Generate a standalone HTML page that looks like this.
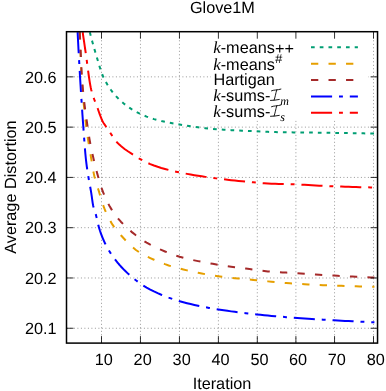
<!DOCTYPE html>
<html><head><meta charset="utf-8"><title>Glove1M</title>
<style>html,body{margin:0;padding:0;background:#fff}body{width:386px;height:391px;overflow:hidden;font-family:"Liberation Sans",sans-serif}</style></head>
<body>
<svg width="386" height="391" viewBox="0 0 386 391" style="display:block;will-change:transform;text-rendering:geometricPrecision;font-family:'Liberation Sans',sans-serif;font-size:16.25px">
<rect width="386" height="391" fill="#fff"/>
<g stroke="#000" stroke-width="0.67" stroke-dasharray="1 2.5" opacity="0.62" fill="none">
<path d="M101.50,343.1 V31.7" stroke-dashoffset="-0.8"/>
<path d="M140.45,343.1 V31.7" stroke-dashoffset="-0.8"/>
<path d="M179.45,343.1 V31.7" stroke-dashoffset="-0.8"/>
<path d="M218.40,343.1 V31.7" stroke-dashoffset="-0.8"/>
<path d="M257.30,343.1 V31.7" stroke-dashoffset="-0.8"/>
<path d="M295.90,343.1 V31.7" stroke-dashoffset="-0.8"/>
<path d="M334.55,343.1 V31.7" stroke-dashoffset="-0.8"/>
<path d="M373.50,343.1 V31.7" stroke-dashoffset="-0.8"/>
<path d="M66.5,328.25 H377.55" stroke-dashoffset="-0.4"/>
<path d="M66.5,277.97 H377.55" stroke-dashoffset="-0.4"/>
<path d="M66.5,227.69 H377.55" stroke-dashoffset="-0.4"/>
<path d="M66.5,177.41 H377.55" stroke-dashoffset="-0.4"/>
<path d="M66.5,127.13 H377.55" stroke-dashoffset="-0.4"/>
<path d="M66.5,76.85 H377.55" stroke-dashoffset="-0.4"/>
</g>
<clipPath id="c"><rect x="66.5" y="31.7" width="311.05" height="311.40000000000003"/></clipPath>
<g clip-path="url(#c)" fill="none" stroke-width="2">
<path d="M89.82,32.17 L90.17,33.54 L90.52,34.89 L90.86,36.23 L91.21,37.55 L91.56,38.87 L91.91,40.16 L92.26,41.45 L92.61,42.72 L92.96,43.99 L93.31,45.24 L93.66,46.47 L94.01,47.70 L94.36,48.91 L94.71,50.12 L95.06,51.31 L95.40,52.49 L95.75,53.66 L96.10,54.83 L96.45,56.00 L96.80,57.19 L97.15,58.39 L97.50,59.58 L97.85,60.78 L98.20,61.97 L98.55,63.15 L98.90,64.31 L99.25,65.46 L99.60,66.60 L99.95,67.71 L100.29,68.79 L100.64,69.85 L100.99,70.88 L101.34,71.88 L101.69,72.84 L102.04,73.77 L102.39,74.66 L102.74,75.51 L103.09,76.32 L103.44,77.09 L103.79,77.83 L104.14,78.56 L104.49,79.27 L104.83,79.96 L105.18,80.64 L105.53,81.31 L105.88,81.96 L106.23,82.59 L106.58,83.21 L106.93,83.82 L107.28,84.42 L107.63,85.00 L107.98,85.58 L108.33,86.14 L108.68,86.69 L109.03,87.22 L109.37,87.75 L109.72,88.27 L110.07,88.78 L110.42,89.28 L110.77,89.77 L111.12,90.25 L111.47,90.72 L111.82,91.18 L112.17,91.64 L112.52,92.09 L112.87,92.53 L113.22,92.96 L113.57,93.39 L113.92,93.81 L114.26,94.22 L114.61,94.62 L114.96,95.02 L115.31,95.42 L115.66,95.80 L116.01,96.18 L116.36,96.56 L116.71,96.93 L117.06,97.30 L117.41,97.66 L117.76,98.02 L118.11,98.37 L118.46,98.72 L118.80,99.06 L119.15,99.40 L119.50,99.74 L119.85,100.07 L120.20,100.39 L120.55,100.72 L120.90,101.03 L124.57,104.16 L128.25,106.90 L131.92,109.33 L135.60,111.48 L139.27,113.39 L142.94,115.10 L146.62,116.63 L150.29,117.97 L153.97,119.13 L157.64,120.14 L161.31,121.04 L164.99,121.85 L168.66,122.59 L172.33,123.28 L176.01,123.92 L179.68,124.54 L183.36,125.15 L187.03,125.74 L190.70,126.30 L194.38,126.84 L198.05,127.35 L201.73,127.82 L205.40,128.24 L209.07,128.63 L212.75,128.96 L216.42,129.26 L220.10,129.51 L223.77,129.74 L227.44,129.95 L231.12,130.14 L234.79,130.31 L238.47,130.48 L242.14,130.65 L245.81,130.81 L249.49,130.97 L253.16,131.14 L256.83,131.31 L260.51,131.50 L264.18,131.70 L267.86,131.87 L271.53,131.98 L275.20,132.07 L278.88,132.15 L282.55,132.22 L286.23,132.28 L289.90,132.34 L293.57,132.39 L297.25,132.44 L300.92,132.48 L304.60,132.52 L308.27,132.56 L311.94,132.61 L315.62,132.65 L319.29,132.69 L322.97,132.74 L326.64,132.78 L330.31,132.83 L333.99,132.89 L337.66,132.94 L341.33,133.00 L345.01,133.06 L348.68,133.12 L352.36,133.18 L356.03,133.24 L359.70,133.30 L363.38,133.36 L367.05,133.42 L370.73,133.48 L374.40,133.54" stroke="#009e73" stroke-dasharray="3.7 5.04"/>
<path d="M79.56,32.17 L80.02,42.48 L80.49,52.68 L80.95,63.22 L81.42,72.97 L81.88,80.41 L82.35,87.11 L82.81,93.19 L83.28,98.76 L83.74,103.89 L84.20,108.65 L84.67,113.13 L85.13,117.37 L85.60,121.44 L86.06,125.36 L86.53,129.03 L86.99,132.46 L87.46,135.69 L87.92,138.75 L88.39,141.68 L88.85,144.52 L89.31,147.29 L89.78,150.03 L90.24,152.75 L90.71,155.47 L91.17,158.23 L91.64,161.06 L92.10,163.94 L92.57,166.78 L93.03,169.51 L93.49,172.06 L93.96,174.38 L94.42,176.43 L94.89,178.30 L95.35,180.03 L95.82,181.65 L96.28,183.18 L96.75,184.66 L97.21,186.09 L97.68,187.52 L98.14,188.95 L98.60,190.41 L99.07,191.90 L99.53,193.43 L100.00,194.98 L100.46,196.54 L100.93,198.09 L101.39,199.62 L101.86,201.13 L102.32,202.60 L102.78,204.03 L103.25,205.40 L103.71,206.71 L104.18,207.96 L104.64,209.14 L105.11,210.27 L105.57,211.36 L106.04,212.43 L106.50,213.46 L106.97,214.47 L107.43,215.45 L107.89,216.40 L108.36,217.33 L108.82,218.23 L109.29,219.10 L109.75,219.96 L110.22,220.79 L110.68,221.59 L111.15,222.38 L111.61,223.15 L112.07,223.90 L112.54,224.63 L113.00,225.33 L113.47,226.02 L113.93,226.69 L114.40,227.34 L114.86,227.98 L115.33,228.60 L115.79,229.21 L116.26,229.81 L116.72,230.39 L117.18,230.96 L117.65,231.53 L118.11,232.08 L118.58,232.63 L119.04,233.17 L119.51,233.70 L119.97,234.22 L120.44,234.75 L120.90,235.26 L124.57,239.25 L128.25,243.13 L131.92,246.68 L135.60,249.74 L139.27,252.23 L142.94,254.37 L146.62,256.27 L150.29,258.04 L153.97,259.73 L157.64,261.32 L161.31,262.81 L164.99,264.18 L168.66,265.43 L172.33,266.57 L176.01,267.60 L179.68,268.56 L183.36,269.48 L187.03,270.36 L190.70,271.21 L194.38,272.02 L198.05,272.79 L201.73,273.52 L205.40,274.21 L209.07,274.85 L212.75,275.45 L216.42,276.00 L220.10,276.51 L223.77,276.97 L227.44,277.39 L231.12,277.78 L234.79,278.16 L238.47,278.51 L242.14,278.86 L245.81,279.20 L249.49,279.54 L253.16,279.89 L256.83,280.25 L260.51,280.62 L264.18,281.00 L267.86,281.37 L271.53,281.71 L275.20,282.06 L278.88,282.39 L282.55,282.72 L286.23,283.03 L289.90,283.32 L293.57,283.58 L297.25,283.82 L300.92,284.04 L304.60,284.25 L308.27,284.45 L311.94,284.63 L315.62,284.81 L319.29,284.97 L322.97,285.13 L326.64,285.29 L330.31,285.43 L333.99,285.58 L337.66,285.71 L341.33,285.85 L345.01,285.98 L348.68,286.10 L352.36,286.22 L356.03,286.33 L359.70,286.44 L363.38,286.55 L367.05,286.65 L370.73,286.74 L374.40,286.84" stroke="#e69f00" stroke-dasharray="7.3 10.22"/>
<path d="M79.79,32.17 L80.26,42.42 L80.72,52.57 L81.18,63.19 L81.64,72.87 L82.10,79.57 L82.57,85.44 L83.03,90.67 L83.49,95.36 L83.95,99.63 L84.41,103.55 L84.87,107.22 L85.34,110.71 L85.80,114.07 L86.26,117.38 L86.72,120.67 L87.18,124.00 L87.65,127.30 L88.11,130.47 L88.57,133.50 L89.03,136.39 L89.49,139.14 L89.96,141.75 L90.42,144.22 L90.88,146.57 L91.34,148.83 L91.80,151.00 L92.26,153.12 L92.73,155.18 L93.19,157.20 L93.65,159.21 L94.11,161.18 L94.57,163.11 L95.04,165.01 L95.50,166.86 L95.96,168.68 L96.42,170.45 L96.88,172.18 L97.34,173.87 L97.81,175.52 L98.27,177.15 L98.73,178.77 L99.19,180.36 L99.65,181.91 L100.12,183.44 L100.58,184.92 L101.04,186.36 L101.50,187.75 L101.96,189.09 L102.43,190.38 L102.89,191.61 L103.35,192.80 L103.81,193.95 L104.27,195.08 L104.73,196.18 L105.20,197.25 L105.66,198.29 L106.12,199.30 L106.58,200.29 L107.04,201.25 L107.51,202.19 L107.97,203.10 L108.43,203.99 L108.89,204.86 L109.35,205.71 L109.82,206.53 L110.28,207.34 L110.74,208.12 L111.20,208.88 L111.66,209.63 L112.12,210.35 L112.59,211.06 L113.05,211.75 L113.51,212.43 L113.97,213.09 L114.43,213.74 L114.90,214.37 L115.36,215.00 L115.82,215.61 L116.28,216.21 L116.74,216.79 L117.21,217.37 L117.67,217.94 L118.13,218.51 L118.59,219.06 L119.05,219.60 L119.51,220.14 L119.98,220.67 L120.44,221.20 L120.90,221.71 L124.57,225.54 L128.25,228.98 L131.92,232.13 L135.60,235.08 L139.27,237.83 L142.94,240.37 L146.62,242.67 L150.29,244.73 L153.97,246.60 L157.64,248.33 L161.31,249.94 L164.99,251.47 L168.66,252.95 L172.33,254.35 L176.01,255.63 L179.68,256.76 L183.36,257.77 L187.03,258.70 L190.70,259.56 L194.38,260.37 L198.05,261.13 L201.73,261.85 L205.40,262.53 L209.07,263.19 L212.75,263.83 L216.42,264.45 L220.10,265.05 L223.77,265.62 L227.44,266.16 L231.12,266.67 L234.79,267.17 L238.47,267.66 L242.14,268.13 L245.81,268.60 L249.49,269.06 L253.16,269.52 L256.83,269.98 L260.51,270.46 L264.18,270.97 L267.86,271.41 L271.53,271.74 L275.20,272.00 L278.88,272.23 L282.55,272.43 L286.23,272.61 L289.90,272.80 L293.57,273.00 L297.25,273.22 L300.92,273.45 L304.60,273.69 L308.27,273.94 L311.94,274.19 L315.62,274.44 L319.29,274.69 L322.97,274.93 L326.64,275.16 L330.31,275.39 L333.99,275.60 L337.66,275.80 L341.33,276.00 L345.01,276.19 L348.68,276.37 L352.36,276.55 L356.03,276.73 L359.70,276.90 L363.38,277.07 L367.05,277.23 L370.73,277.38 L374.40,277.54" stroke="#a52a2a" stroke-dasharray="7.3 10.22"/>
<path d="M77.61,32.17 L78.10,41.74 L78.58,50.98 L79.07,59.89 L79.56,68.51 L80.04,76.85 L80.53,84.94 L81.01,92.79 L81.50,100.42 L81.99,107.82 L82.47,114.99 L82.96,121.92 L83.45,128.61 L83.93,135.36 L84.42,142.02 L84.91,148.33 L85.39,154.04 L85.88,158.98 L86.37,163.14 L86.85,166.80 L87.34,170.13 L87.82,173.25 L88.31,176.29 L88.80,179.28 L89.28,182.05 L89.77,184.68 L90.26,187.29 L90.74,189.97 L91.23,192.81 L91.72,196.08 L92.20,199.68 L92.69,203.08 L93.17,205.78 L93.66,207.77 L94.15,209.40 L94.63,210.85 L95.12,212.26 L95.61,213.76 L96.09,215.49 L96.58,217.47 L97.07,219.59 L97.55,221.77 L98.04,223.89 L98.53,225.88 L99.01,227.65 L99.50,229.24 L99.98,230.76 L100.47,232.20 L100.96,233.58 L101.44,234.90 L101.93,236.17 L102.42,237.40 L102.90,238.58 L103.39,239.72 L103.88,240.83 L104.36,241.91 L104.85,242.96 L105.34,243.97 L105.82,244.95 L106.31,245.90 L106.79,246.81 L107.28,247.70 L107.77,248.56 L108.25,249.40 L108.74,250.22 L109.23,251.03 L109.71,251.81 L110.20,252.58 L110.69,253.34 L111.17,254.07 L111.66,254.79 L112.14,255.50 L112.63,256.19 L113.12,256.87 L113.60,257.54 L114.09,258.19 L114.58,258.84 L115.06,259.47 L115.55,260.10 L116.04,260.71 L116.52,261.32 L117.01,261.92 L117.50,262.52 L117.98,263.10 L118.47,263.68 L118.95,264.25 L119.44,264.82 L119.93,265.37 L120.41,265.92 L120.90,266.46 L124.57,270.33 L128.25,273.86 L131.92,277.11 L135.60,280.06 L139.27,282.78 L142.94,285.31 L146.62,287.57 L150.29,289.57 L153.97,291.42 L157.64,293.14 L161.31,294.75 L164.99,296.23 L168.66,297.62 L172.33,298.90 L176.01,300.09 L179.68,301.19 L183.36,302.22 L187.03,303.18 L190.70,304.09 L194.38,304.94 L198.05,305.74 L201.73,306.50 L205.40,307.22 L209.07,307.91 L212.75,308.56 L216.42,309.18 L220.10,309.77 L223.77,310.33 L227.44,310.86 L231.12,311.37 L234.79,311.85 L238.47,312.31 L242.14,312.76 L245.81,313.19 L249.49,313.61 L253.16,314.02 L256.83,314.42 L260.51,314.81 L264.18,315.19 L267.86,315.55 L271.53,315.89 L275.20,316.21 L278.88,316.53 L282.55,316.83 L286.23,317.13 L289.90,317.41 L293.57,317.69 L297.25,317.96 L300.92,318.22 L304.60,318.48 L308.27,318.74 L311.94,318.98 L315.62,319.22 L319.29,319.46 L322.97,319.69 L326.64,319.91 L330.31,320.12 L333.99,320.33 L337.66,320.53 L341.33,320.73 L345.01,320.92 L348.68,321.10 L352.36,321.28 L356.03,321.46 L359.70,321.63 L363.38,321.80 L367.05,321.96 L370.73,322.12 L374.40,322.27" stroke="#0000ff" stroke-dasharray="21.1 6.9 3.9 6.9"/>
<path d="M82.68,32.17 L83.11,35.10 L83.54,38.03 L83.97,40.96 L84.40,43.90 L84.83,46.84 L85.26,49.77 L85.69,52.71 L86.12,55.66 L86.54,58.77 L86.97,62.01 L87.40,65.30 L87.83,68.59 L88.26,71.84 L88.69,74.99 L89.12,78.01 L89.55,80.86 L89.98,83.49 L90.41,85.90 L90.84,88.04 L91.27,89.90 L91.70,91.58 L92.13,93.13 L92.56,94.56 L92.99,95.90 L93.42,97.16 L93.85,98.35 L94.27,99.50 L94.70,100.62 L95.13,101.72 L95.56,102.81 L95.99,103.91 L96.42,105.01 L96.85,106.14 L97.28,107.30 L97.71,108.50 L98.14,109.73 L98.57,110.97 L99.00,112.21 L99.43,113.43 L99.86,114.61 L100.29,115.75 L100.72,116.85 L101.15,117.95 L101.58,119.02 L102.00,120.04 L102.43,120.97 L102.86,121.82 L103.29,122.57 L103.72,123.26 L104.15,123.90 L104.58,124.52 L105.01,125.12 L105.44,125.73 L105.87,126.34 L106.30,126.99 L106.73,127.63 L107.16,128.27 L107.59,128.91 L108.02,129.55 L108.45,130.19 L108.88,130.82 L109.31,131.45 L109.73,132.09 L110.16,132.72 L110.59,133.35 L111.02,133.98 L111.45,134.63 L111.88,135.30 L112.31,135.97 L112.74,136.63 L113.17,137.30 L113.60,137.95 L114.03,138.59 L114.46,139.21 L114.89,139.80 L115.32,140.36 L115.75,140.89 L116.18,141.39 L116.61,141.87 L117.04,142.33 L117.46,142.79 L117.89,143.22 L118.32,143.65 L118.75,144.06 L119.18,144.46 L119.61,144.86 L120.04,145.24 L120.47,145.62 L120.90,145.99 L124.57,148.95 L128.25,151.54 L131.92,153.91 L135.60,156.28 L139.27,158.53 L142.94,160.58 L146.62,162.47 L150.29,164.12 L153.97,165.55 L157.64,166.81 L161.31,167.94 L164.99,168.98 L168.66,169.95 L172.33,170.84 L176.01,171.67 L179.68,172.45 L183.36,173.19 L187.03,173.88 L190.70,174.54 L194.38,175.16 L198.05,175.75 L201.73,176.32 L205.40,176.87 L209.07,177.39 L212.75,177.89 L216.42,178.37 L220.10,178.84 L223.77,179.29 L227.44,179.73 L231.12,180.15 L234.79,180.56 L238.47,180.95 L242.14,181.33 L245.81,181.69 L249.49,182.03 L253.16,182.36 L256.83,182.66 L260.51,182.96 L264.18,183.25 L267.86,183.50 L271.53,183.68 L275.20,183.81 L278.88,183.93 L282.55,184.03 L286.23,184.12 L289.90,184.22 L293.57,184.33 L297.25,184.46 L300.92,184.62 L304.60,184.80 L308.27,185.00 L311.94,185.21 L315.62,185.43 L319.29,185.64 L322.97,185.85 L326.64,186.04 L330.31,186.21 L333.99,186.36 L337.66,186.49 L341.33,186.61 L345.01,186.74 L348.68,186.85 L352.36,186.96 L356.03,187.06 L359.70,187.16 L363.38,187.24 L367.05,187.33 L370.73,187.40 L374.40,187.47" stroke="#ff0000" stroke-dasharray="21.1 6.9 3.9 6.9"/>
</g>
<rect x="210.8" y="33" width="157.7" height="87.5" fill="#fff"/>
<g stroke="#000" stroke-width="0.8" fill="none">
<path d="M101.50,343.1 v-7 M101.50,31.7 v7"/>
<path d="M140.45,343.1 v-7 M140.45,31.7 v7"/>
<path d="M179.45,343.1 v-7 M179.45,31.7 v7"/>
<path d="M218.40,343.1 v-7 M218.40,31.7 v7"/>
<path d="M257.30,343.1 v-7 M257.30,31.7 v7"/>
<path d="M295.90,343.1 v-7 M295.90,31.7 v7"/>
<path d="M334.55,343.1 v-7 M334.55,31.7 v7"/>
<path d="M373.50,343.1 v-7 M373.50,31.7 v7"/>
<path d="M66.5,328.25 h7 M377.55,328.25 h-7"/>
<path d="M66.5,277.97 h7 M377.55,277.97 h-7"/>
<path d="M66.5,227.69 h7 M377.55,227.69 h-7"/>
<path d="M66.5,177.41 h7 M377.55,177.41 h-7"/>
<path d="M66.5,127.13 h7 M377.55,127.13 h-7"/>
<path d="M66.5,76.85 h7 M377.55,76.85 h-7"/>
</g>
<rect x="66.5" y="31.7" width="311.05" height="311.40000000000003" fill="none" stroke="#000" stroke-width="1.5"/>
<text x="103.70" y="364.6" text-anchor="middle">10</text>
<text x="142.65" y="364.6" text-anchor="middle">20</text>
<text x="181.65" y="364.6" text-anchor="middle">30</text>
<text x="220.60" y="364.6" text-anchor="middle">40</text>
<text x="259.50" y="364.6" text-anchor="middle">50</text>
<text x="298.10" y="364.6" text-anchor="middle">60</text>
<text x="336.75" y="364.6" text-anchor="middle">70</text>
<text x="375.70" y="364.6" text-anchor="middle">80</text>
<text x="56.6" y="334.05" text-anchor="end">20.1</text>
<text x="56.6" y="283.77" text-anchor="end">20.2</text>
<text x="56.6" y="233.49" text-anchor="end">20.3</text>
<text x="56.6" y="183.21" text-anchor="end">20.4</text>
<text x="56.6" y="132.93" text-anchor="end">20.5</text>
<text x="56.6" y="82.65" text-anchor="end">20.6</text>
<text x="222.4" y="12.6" text-anchor="middle">Glove1M</text>
<text x="222.0" y="389.2" text-anchor="middle">Iteration</text>
<text transform="translate(16.4,187.1) rotate(-90)" text-anchor="middle">Average Distortion</text>
<text x="213.3" y="52.6"><tspan font-family="'Liberation Serif',serif" font-style="italic" font-size="17px">k</tspan></text><text x="220.7" y="52.6">-means</text>
<text x="274.9" y="54.4">+</text><text x="284.6" y="54.4">+</text>
<text x="213.3" y="70.1"><tspan font-family="'Liberation Serif',serif" font-style="italic" font-size="17px">k</tspan></text><text x="220.7" y="70.1">-means</text>
<text x="275.0" y="62.9" font-size="12.8px" font-style="italic">#</text>
<text x="213.4" y="85.0">Hartigan</text>
<text x="213.3" y="100.6"><tspan font-family="'Liberation Serif',serif" font-style="italic" font-size="17px">k</tspan></text><text x="220.7" y="100.6">-sums-</text>
<g fill="none" stroke="#000" stroke-width="0.9" stroke-linecap="round"><path d="M271.5,90.80000000000001 C273.5,89.80000000000001 277.5,90.2 280.9,89.10000000000001"/><path d="M276.7,90.0 C275.7,93.4 275.1,97.4 274.1,100.10000000000001"/><path d="M270.5,100.4 C273.5,100.2 276.5,100.2 279.3,99.5"/></g>
<text x="280.2" y="104.8" font-family="'Liberation Serif',serif" font-style="italic" font-size="12px">m</text>
<text x="213.3" y="117.1"><tspan font-family="'Liberation Serif',serif" font-style="italic" font-size="17px">k</tspan></text><text x="220.7" y="117.1">-sums-</text>
<g fill="none" stroke="#000" stroke-width="0.9" stroke-linecap="round"><path d="M271.5,106.7 C273.5,105.7 277.5,106.1 280.9,105.0"/><path d="M276.7,105.89999999999999 C275.7,109.3 275.1,113.3 274.1,116.0"/><path d="M270.5,116.3 C273.5,116.1 276.5,116.1 279.3,115.39999999999999"/></g>
<text x="280.2" y="121.1" font-family="'Liberation Serif',serif" font-style="italic" font-size="12px">s</text>
<g fill="none" stroke-width="2">
<path d="M311,47.2 H357.9" stroke="#009e73" stroke-dasharray="3.7 5.04"/>
<path d="M311,63.8 H357.9" stroke="#e69f00" stroke-dasharray="7.3 10.22"/>
<path d="M311,80.1 H357.9" stroke="#a52a2a" stroke-dasharray="7.3 10.22"/>
<path d="M311,96.5 H357.9" stroke="#0000ff" stroke-dasharray="21.1 6.9 3.9 6.9"/>
<path d="M311,112.8 H357.9" stroke="#ff0000" stroke-dasharray="21.1 6.9 3.9 6.9"/>
</g>
</svg>
</body></html>
